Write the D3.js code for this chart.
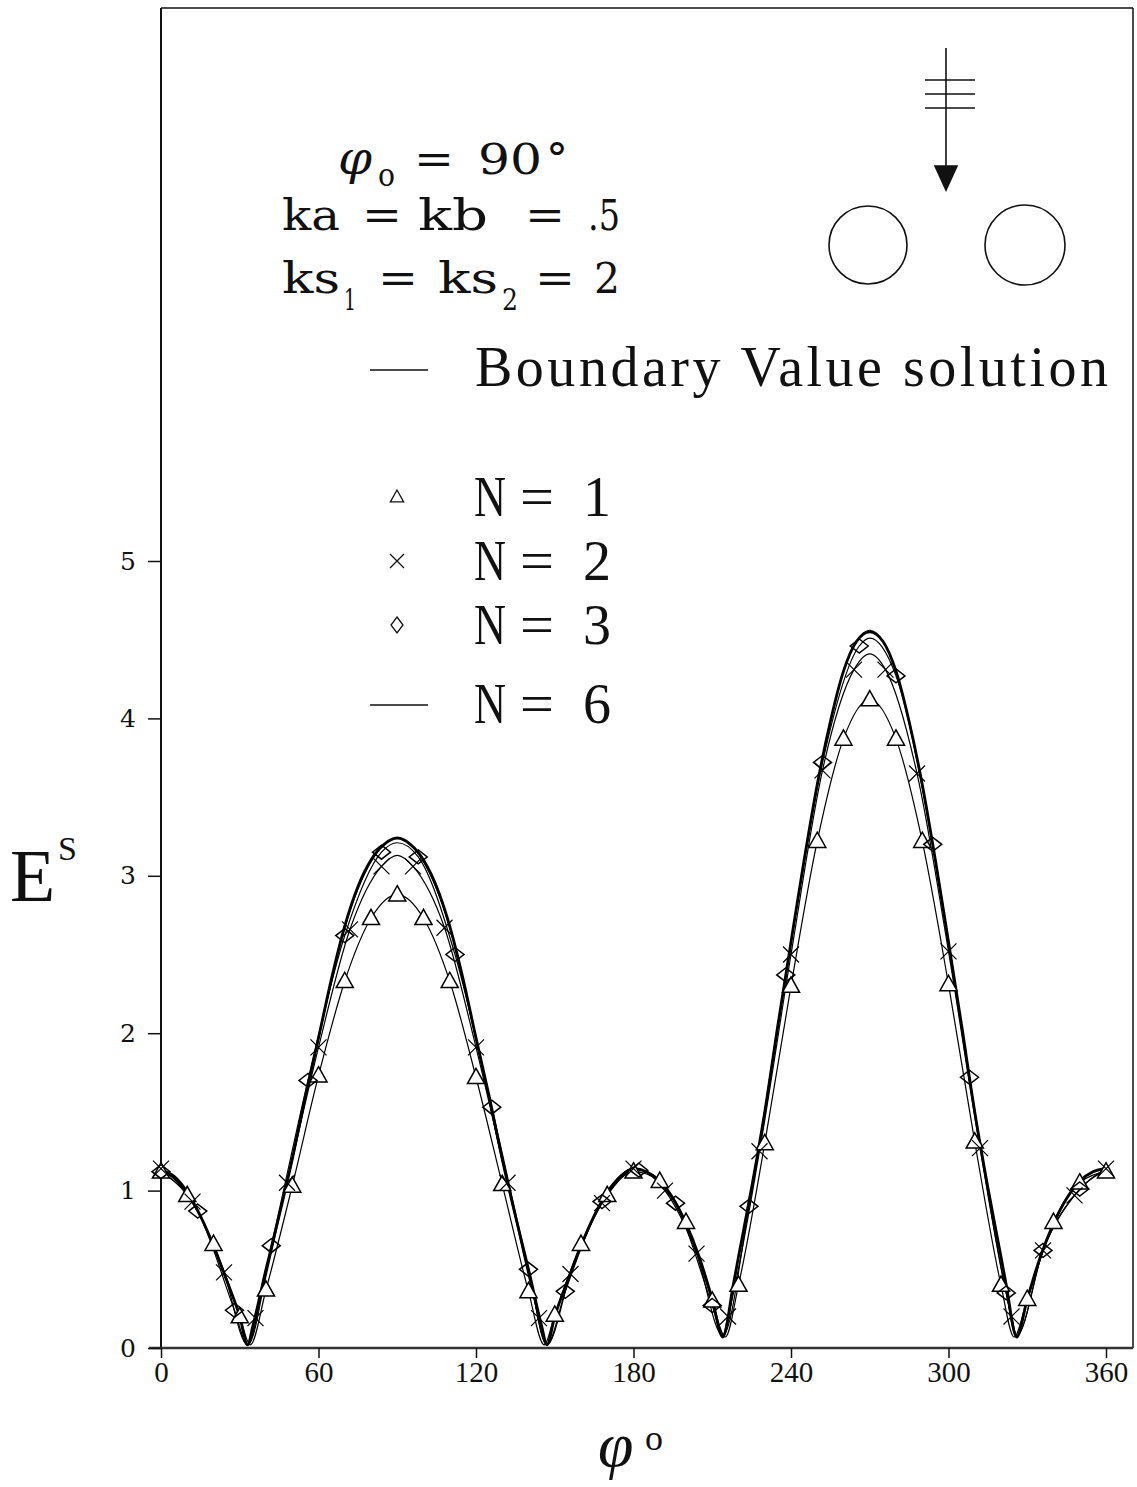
<!DOCTYPE html>
<html>
<head>
<meta charset="utf-8">
<script src="https://cdn.jsdelivr.net/npm/d3@7"></script>
<style>
  html, body { margin: 0; padding: 0; background: #fff; }
  svg { display: block; }
</style>
</head>
<body>
<svg id="chart" width="1137" height="1487"></svg>
<script>
// ---- axis ticks ----
const xTicks = [0, 60, 120, 180, 240, 300, 360];
const yTicks = [0, 1, 2, 3, 4, 5];

// ---- N = 1 (triangles, every 10 deg) ----
const n1Phi = [0,10,20,30,40,50,60,70,80,90,100,110,120,130,140,150,160,170,180,
               190,200,210,220,230,240,250,260,270,280,290,300,310,320,330,340,350,360];
const n1Val = [1.12,0.97,0.66,0.20,0.37,1.03,1.73,2.33,2.73,2.88,2.73,2.33,1.72,1.04,0.36,0.21,0.66,0.97,1.12,
               1.06,0.80,0.30,0.40,1.30,2.30,3.22,3.87,4.12,3.87,3.22,2.31,1.31,0.40,0.31,0.80,1.05,1.12];
// extra knots of the N = 1 curve (nulls)
const n1KnotPhi = [34, 146, 215, 325];
const n1KnotVal = [0.02, 0.02, 0.07, 0.07];

// ---- N = 2 (crosses, every 12 deg) ----
const n2Phi = [0,12,24,36,48,60,72,84,96,108,120,132,144,156,168,180,
               192,204,216,228,240,252,264,276,288,300,312,324,336,348,360];
const n2Val = [1.14,0.93,0.48,0.19,1.05,1.91,2.66,3.06,3.06,2.67,1.91,1.05,0.19,0.47,0.92,1.14,
               1.00,0.60,0.20,1.25,2.50,3.67,4.31,4.31,3.65,2.52,1.27,0.20,0.62,0.97,1.14];
const n2KnotPhi = [33, 90, 147, 214, 270, 326];
const n2KnotVal = [0.02, 3.13, 0.02, 0.08, 4.41, 0.08];

// ---- N = 3 (diamonds, every 14 deg) ----
const n3Phi = [0,14,28,42,56,70,84,98,112,126,140,154,168,182,
               196,210,224,238,252,266,280,294,308,322,336,350];
const n3Val = [1.12,0.87,0.24,0.65,1.70,2.62,3.15,3.12,2.50,1.53,0.50,0.36,0.93,1.13,
               0.92,0.27,0.90,2.37,3.72,4.46,4.27,3.20,1.72,0.35,0.62,1.01];
const n3KnotPhi = [33, 90, 147, 214, 270, 326, 360];
const n3KnotVal = [0.02, 3.21, 0.02, 0.08, 4.51, 0.08, 1.13];

// ---- N = 6 (heavy curve) ----
const n6Phi = [0,5,10,15,20,25,30,33,35,40,45,50,55,60,65,70,75,80,85,90,
               95,100,105,110,115,120,125,130,135,140,145,147,150,155,160,165,170,175,180,
               185,190,195,200,205,210,214,218,220,225,230,235,240,245,250,255,260,265,270,
               275,280,285,290,295,300,305,310,315,320,322,326,330,335,340,345,350,355,360];
const n6Val = [1.13,1.09,0.99,0.84,0.65,0.43,0.20,0.02,0.14,0.50,0.84,1.20,1.60,1.97,2.35,2.68,2.93,3.10,3.20,3.24,
               3.20,3.10,2.93,2.68,2.35,1.97,1.60,1.20,0.84,0.50,0.14,0.02,0.20,0.43,0.65,0.84,0.99,1.09,1.14,
               1.12,1.06,0.95,0.79,0.58,0.31,0.07,0.40,0.58,1.02,1.50,2.05,2.58,3.10,3.58,3.98,4.30,4.49,4.55,
               4.49,4.30,3.98,3.58,3.10,2.58,2.05,1.50,1.02,0.58,0.40,0.07,0.31,0.58,0.79,0.95,1.06,1.12,1.14];

// ---- boundary value solution ----
const bvPhi = [0,10,20,30,33,40,50,60,70,80,90,100,110,120,130,140,147,150,160,170,180,
               190,200,210,214,220,230,240,250,260,270,280,290,300,310,320,326,330,340,350,360];
const bvVal = [1.13,0.99,0.65,0.20,0.02,0.50,1.19,1.96,2.67,3.09,3.24,3.09,2.67,1.96,1.19,0.50,0.02,0.20,0.65,0.99,1.14,
               1.06,0.79,0.31,0.07,0.58,1.50,2.58,3.58,4.30,4.56,4.30,3.58,2.58,1.50,0.58,0.07,0.31,0.79,1.06,1.14];

// ---- scales ----
const svg = d3.select("#chart");
const x = d3.scaleLinear().domain([0, 360]).range([161, 1106]);
const y = d3.scaleLinear().domain([0, 5]).range([1348, 561]);
const plotLeft = 161, plotRight = 1133, plotTop = 8, plotBottom = 1348;

const pairs = (phi, val) => phi.map((p, i) => [p, val[i]]);
const merged = (a, b) => a.concat(b).sort((p, q) => p[0] - q[0]);

const line = d3.line()
  .x(d => x(d[0]))
  .y(d => y(d[1]))
  .curve(d3.curveMonotoneX);

// ---- frame ----
const frame = svg.append("g").attr("stroke", "#111").attr("fill", "none");
frame.append("line").attr("x1", plotLeft).attr("x2", plotLeft).attr("y1", plotTop).attr("y2", plotBottom).attr("stroke-width", 2);
frame.append("line").attr("x1", plotLeft).attr("x2", plotRight).attr("y1", plotTop).attr("y2", plotTop).attr("stroke-width", 1.5);
frame.append("line").attr("x1", plotRight).attr("x2", plotRight).attr("y1", plotTop).attr("y2", plotBottom).attr("stroke-width", 1.5);
frame.append("line").attr("x1", 149).attr("x2", plotRight).attr("y1", plotBottom).attr("y2", plotBottom).attr("stroke-width", 2.5).attr("stroke", "#333");

// ---- axes ----
const xAxis = svg.append("g")
  .attr("transform", `translate(0,${plotBottom})`)
  .call(d3.axisBottom(x).tickValues(xTicks).tickSize(10).tickPadding(3));
xAxis.select(".domain").remove();
xAxis.selectAll(".tick line").attr("stroke", "#111").attr("stroke-width", 1.5);
xAxis.selectAll(".tick text")
  .attr("font-family", "'Liberation Serif', serif")
  .attr("font-size", 29)
  .attr("fill", "#111");

const yAxis = svg.append("g")
  .attr("transform", `translate(${plotLeft},0)`)
  .call(d3.axisLeft(y).tickValues(yTicks).tickFormat(d3.format("d")).tickSize(13).tickPadding(12));
yAxis.select(".domain").remove();
yAxis.selectAll(".tick line").attr("stroke", "#111").attr("stroke-width", 1.5);
yAxis.selectAll(".tick text")
  .attr("font-family", "'DejaVu Serif', serif")
  .attr("font-size", 25)
  .attr("fill", "#111");

// ---- curves ----
const curves = svg.append("g").attr("fill", "none").attr("stroke", "#000").attr("stroke-linejoin", "round");
curves.append("path").attr("d", line(pairs(n6Phi, n6Val))).attr("stroke-width", 2.8);
curves.append("path").attr("d", line(pairs(bvPhi, bvVal))).attr("stroke-width", 1.2);
curves.append("path").attr("d", line(merged(pairs(n3Phi, n3Val), pairs(n3KnotPhi, n3KnotVal)))).attr("stroke-width", 1.2);
curves.append("path").attr("d", line(merged(pairs(n2Phi, n2Val), pairs(n2KnotPhi, n2KnotVal)))).attr("stroke-width", 1.2);
curves.append("path").attr("d", line(merged(pairs(n1Phi, n1Val), pairs(n1KnotPhi, n1KnotVal)))).attr("stroke-width", 1.2);

// ---- marker shapes ----
const triPath = s => `M0,${-s}L${s * 0.95},${s * 0.7}L${-s * 0.95},${s * 0.7}Z`;
const crossPath = s => `M${-s},${-s}L${s},${s}M${s},${-s}L${-s},${s}`;
const diamondPath = (w, h) => `M0,${-h}L${w},0L0,${h}L${-w},0Z`;

const marks = svg.append("g").attr("stroke", "#000").attr("stroke-width", 1.5);
marks.selectAll("path.tri").data(pairs(n1Phi, n1Val)).join("path")
  .attr("class", "tri")
  .attr("transform", d => `translate(${x(d[0])},${y(d[1])})`)
  .attr("d", triPath(9)).attr("fill", "#fff");
marks.selectAll("path.cross").data(pairs(n2Phi, n2Val)).join("path")
  .attr("class", "cross")
  .attr("transform", d => `translate(${x(d[0])},${y(d[1])})`)
  .attr("d", crossPath(8)).attr("fill", "none").attr("stroke-width", 1.2);
marks.selectAll("path.dia").data(pairs(n3Phi, n3Val)).join("path")
  .attr("class", "dia")
  .attr("transform", d => `translate(${x(d[0])},${y(d[1])})`)
  .attr("d", diamondPath(9, 7)).attr("fill", "none");

// ---- axis titles ----
const serif = "'Liberation Serif', serif";
const ylab = svg.append("text").attr("font-family", serif).attr("fill", "#111");
ylab.append("tspan").attr("x", 10).attr("y", 901).attr("font-size", 74).text("E");
ylab.append("tspan").attr("x", 58).attr("y", 860).attr("font-size", 34).text("S");

const xlab = svg.append("text").attr("font-family", serif).attr("fill", "#111");
xlab.append("tspan").attr("x", 598).attr("y", 1466).attr("font-size", 64).attr("font-style", "italic").text("φ");
xlab.append("tspan").attr("x", 645).attr("y", 1450).attr("font-size", 36).text("o");

// ---- parameter block ----
const ann = svg.append("g").attr("font-family", "'DejaVu Serif', serif").attr("fill", "#111").attr("font-size", 42);
const tok = (tx, ty, s, w, size, style) => {
  const t = ann.append("text").attr("x", tx).attr("y", ty).text(s);
  if (w) t.attr("textLength", w).attr("lengthAdjust", "spacingAndGlyphs");
  if (size) t.attr("font-size", size);
  if (style) t.attr("font-style", style);
  return t;
};
tok(338, 174, "φ", 34, 46, "italic");
tok(378, 186, "o", 17, 32);
tok(414, 174, "=", 40);
tok(478, 174, "90", 64);
tok(546, 174, "°", 22);
tok(282, 230, "ka", 58);
tok(362, 230, "=", 40);
tok(418, 230, "kb", 70);
tok(525, 230, "=", 40);
tok(588, 230, ".5", 32);
tok(282, 293, "ks", 58);
tok(344, 310, "1", 12, 30);
tok(378, 293, "=", 40);
tok(438, 293, "ks", 60);
tok(502, 310, "2", 16, 30);
tok(535, 293, "=", 40);
tok(594, 293, "2", 26);

// ---- legend ----
const leg = svg.append("g").attr("font-family", serif).attr("fill", "#111").attr("font-size", 56);
leg.append("line").attr("x1", 370).attr("x2", 428).attr("y1", 370).attr("y2", 370).attr("stroke", "#111").attr("stroke-width", 1.5);
leg.append("text").attr("x", 475).attr("y", 386).attr("textLength", 633).attr("lengthAdjust", "spacing").text("Boundary Value solution");
const legRows = [
  {label: "1", yy: 497, shape: "tri"},
  {label: "2", yy: 561, shape: "cross"},
  {label: "3", yy: 625, shape: "dia"},
  {label: "6", yy: 704, shape: "line"}
];
legRows.forEach(r => {
  const g = leg.append("g");
  g.append("text").attr("x", 474).attr("y", r.yy + 19).attr("textLength", 32).attr("lengthAdjust", "spacingAndGlyphs").text("N");
  g.append("text").attr("x", 520).attr("y", r.yy + 19).attr("textLength", 34).attr("lengthAdjust", "spacingAndGlyphs").text("=");
  g.append("text").attr("x", 583).attr("y", r.yy + 19).text(r.label);
  if (r.shape === "tri") {
    g.append("path").attr("transform", `translate(397,${r.yy})`).attr("d", triPath(7)).attr("fill", "none").attr("stroke", "#111").attr("stroke-width", 1.3);
  } else if (r.shape === "cross") {
    g.append("path").attr("transform", `translate(397,${r.yy})`).attr("d", crossPath(7)).attr("fill", "none").attr("stroke", "#111").attr("stroke-width", 1.3);
  } else if (r.shape === "dia") {
    g.append("path").attr("transform", `translate(397,${r.yy})`).attr("d", diamondPath(6, 8)).attr("fill", "none").attr("stroke", "#111").attr("stroke-width", 1.3);
  } else {
    g.append("line").attr("x1", 370).attr("x2", 428).attr("y1", r.yy + 1).attr("y2", r.yy + 1).attr("stroke", "#111").attr("stroke-width", 1.5);
  }
});

// ---- incident wave and the two cylinders ----
const geo = svg.append("g").attr("stroke", "#111").attr("fill", "none").attr("stroke-width", 1.6);
geo.append("line").attr("x1", 946).attr("x2", 946).attr("y1", 48).attr("y2", 170);
[80, 94, 108].forEach(yy => geo.append("line").attr("x1", 925).attr("x2", 975).attr("y1", yy).attr("y2", yy));
geo.append("path").attr("d", "M935,166L957,166L946,190Z").attr("fill", "#111");
geo.append("circle").attr("cx", 868).attr("cy", 245).attr("r", 39);
geo.append("circle").attr("cx", 1025).attr("cy", 245).attr("r", 40);
</script>
</body>
</html>
